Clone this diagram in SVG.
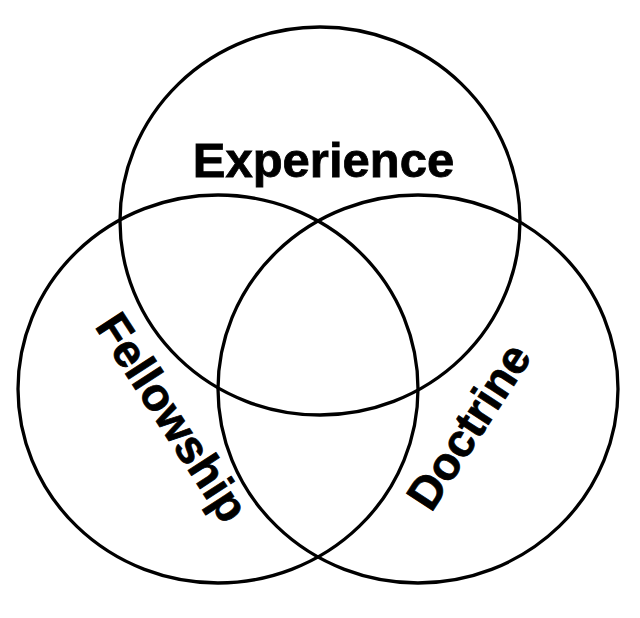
<svg xmlns="http://www.w3.org/2000/svg" width="640" height="618" viewBox="0 0 640 618">
<style>
.c{fill:none;stroke:#000;stroke-width:3.3}
.t{font-family:"Liberation Sans",Arial,sans-serif;font-weight:bold;fill:#000;stroke:#000;stroke-width:0.8;text-anchor:middle}
</style>
<rect width="640" height="618" fill="#fff"/>
<g id="connectors"/>
<g id="experience">
<ellipse class="c" cx="320" cy="221" rx="200" ry="194"/>
<text class="t" x="323.5" y="177" font-size="49">Experience</text>
</g>
<g id="fellowship">
<ellipse class="c" cx="218" cy="389" rx="200" ry="194"/>
<text class="t" font-size="46" transform="translate(159,426) rotate(57)">Fellowship</text>
</g>
<g id="doctrine">
<ellipse class="c" cx="418" cy="389" rx="200" ry="194"/>
<text class="t" font-size="46" transform="translate(482,435) rotate(-57)">Doctrine</text>
</g>
</svg>
